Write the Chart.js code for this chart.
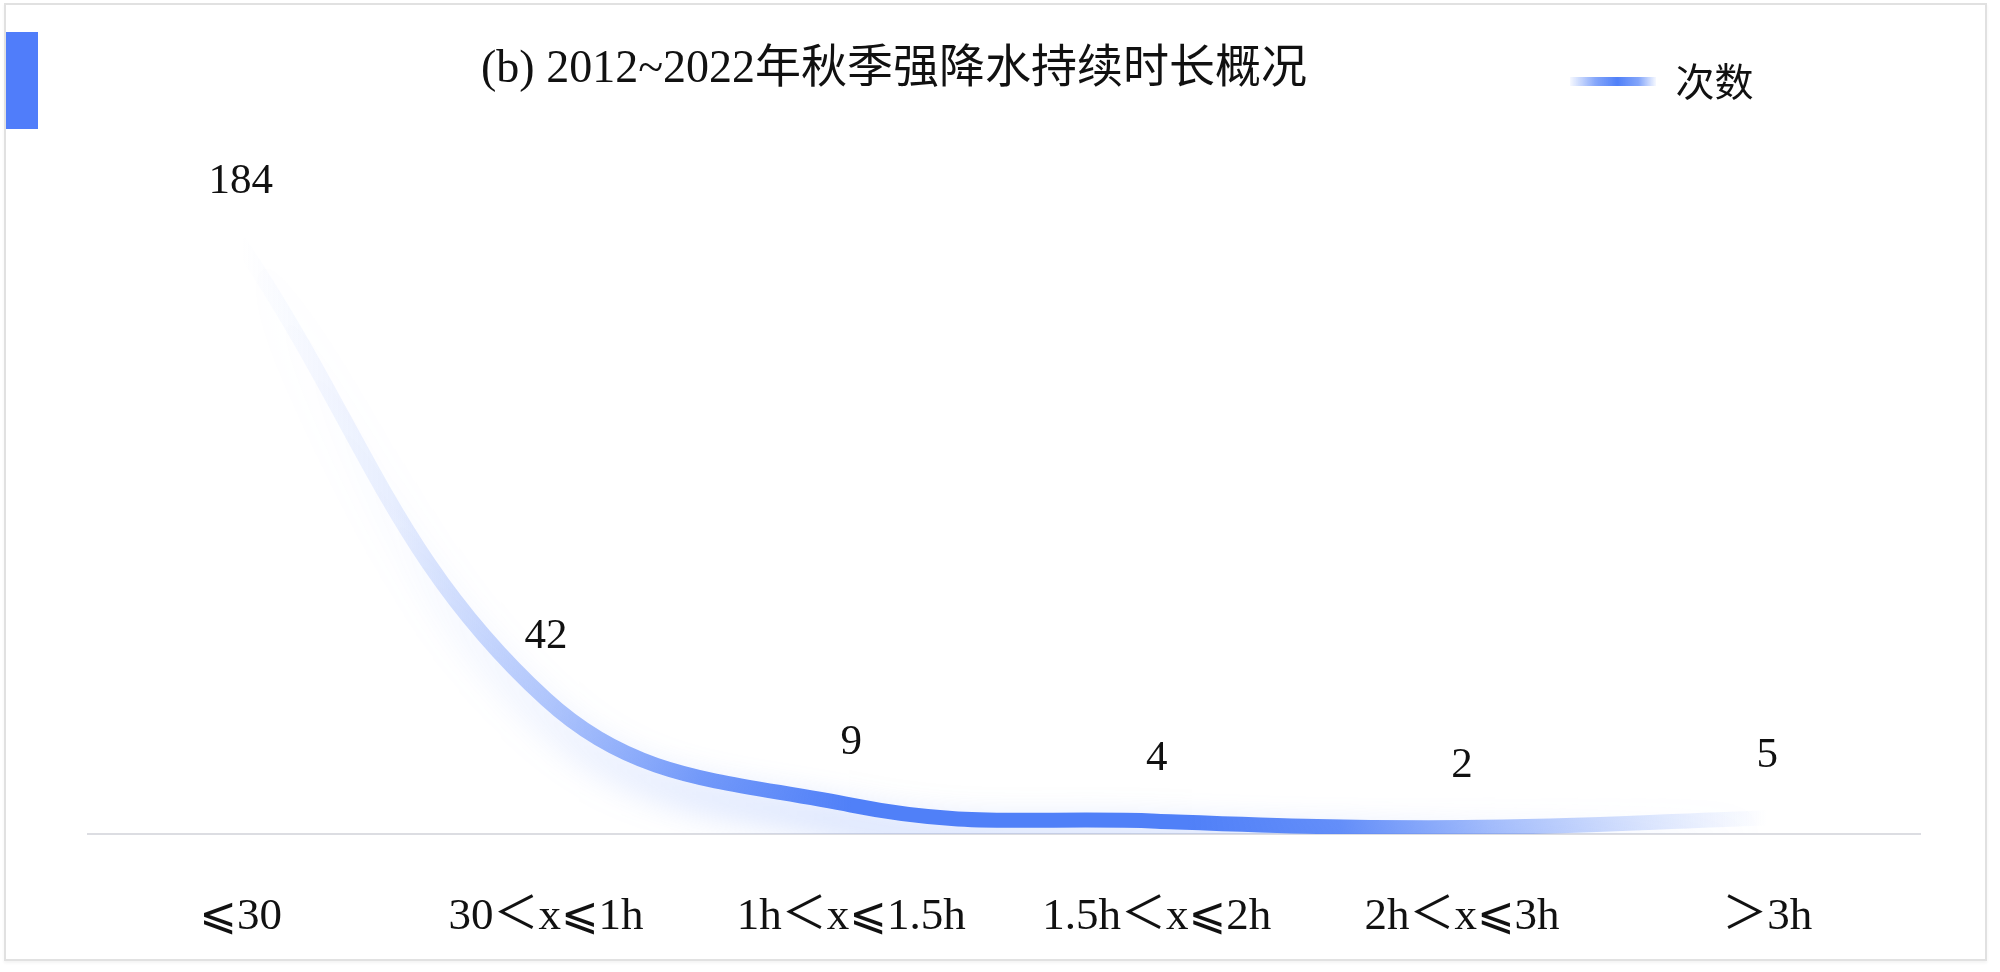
<!DOCTYPE html>
<html>
<head>
<meta charset="utf-8">
<style>
  html, body { margin: 0; padding: 0; background: #fff; }
  #wrap { position: relative; width: 2000px; height: 972px; overflow: hidden; }
  #frame { position: absolute; left: 4px; top: 3px; width: 1979px; height: 954px;
           border: 2px solid #e1e1e1; box-shadow: 0 2px 3px rgba(0,0,0,0.05); }
  #mark { position: absolute; left: 6px; top: 32px; width: 32px; height: 97px; background: #507dfa; }
  canvas { position: absolute; left: 0; top: 0; }
</style>
<script src="https://cdn.jsdelivr.net/npm/chart.js@4.4.0/dist/chart.umd.min.js"></script>
</head>
<body>
<div id="wrap">
  <div id="frame"></div>
  <div id="mark"></div>
  <canvas id="c" width="2000" height="972"></canvas>
</div>
<script>
// data
const categories = ['⩽30', '30＜x⩽1h', '1h＜x⩽1.5h', '1.5h＜x⩽2h', '2h＜x⩽3h', '＞3h'];
const counts = [184, 42, 9, 4, 2, 5];
const seriesName = '次数';
const titleText = '(b) 2012~2022年秋季强降水持续时长概况';
const yMin = 0;
const yMax = 198;

const SERIF = '"Liberation Serif", "DejaVu Sans", "Noto Sans CJK SC", serif';
const TITLE_CENTER_X = 894;
const LEGEND_X = 1570;
const LEGEND_TOP = 52;

// blue that fades in and out along the x axis
function fadeGradient(ctx, x0, x1, stops) {
  const g = ctx.createLinearGradient(x0, 0, x1, 0);
  stops.forEach(([p, a]) => g.addColorStop(p, 'rgba(80,128,248,' + a + ')'));
  return g;
}

function lineColor(c) {
  const chart = c.chart;
  const xs = chart.scales.x;
  if (!xs || !chart.chartArea) return 'rgba(80,128,248,1)';
  const x0 = xs.getPixelForValue(0);
  const x1 = xs.getPixelForValue(categories.length - 1);
  return fadeGradient(chart.ctx, x0, x1, [
    [0, 0], [0.1, 0.12], [0.2, 0.42], [0.3, 0.78], [0.4, 1],
    [0.62, 1], [0.72, 0.88], [0.82, 0.5], [0.92, 0.2], [1, 0]
  ]);
}

// soft glow under the line
const glow = {
  id: 'glow',
  beforeDatasetDraw(chart) {
    const ctx = chart.ctx;
    ctx.save();
    ctx.shadowColor = 'rgba(80,128,248,0.5)';
    ctx.shadowBlur = 36;
    ctx.shadowOffsetY = 18;
  },
  afterDatasetDraw(chart) {
    chart.ctx.restore();
  }
};

// numbers above each point
const valueLabels = {
  id: 'valueLabels',
  afterDatasetsDraw(chart) {
    const ctx = chart.ctx;
    const meta = chart.getDatasetMeta(0);
    ctx.save();
    ctx.font = '43px ' + SERIF;
    ctx.fillStyle = '#111';
    ctx.textAlign = 'center';
    ctx.textBaseline = 'alphabetic';
    meta.data.forEach((pt, i) => ctx.fillText(String(counts[i]), pt.x, pt.y - 51));
    ctx.restore();
  }
};

// title and legend sit on the same line, title a bit left of centre
const placeHeader = {
  id: 'placeHeader',
  afterLayout(chart) {
    const t = chart.titleBlock;
    const dx = TITLE_CENTER_X - (t.left + t.right) / 2;
    t.left += dx; t.right += dx;

    const lg = chart.legend;
    const lx = LEGEND_X - (lg.right - lg.lineWidths[0]);
    lg.left += lx; lg.right += lx;
    const ly = LEGEND_TOP - lg.top;
    lg.top += ly; lg.bottom += ly;
  },
  beforeDraw(chart) {
    const lg = chart.legend;
    const item = lg.legendItems && lg.legendItems[0];
    if (!item) return;
    const x0 = lg.right - lg.lineWidths[0];
    item.fillStyle = fadeGradient(chart.ctx, x0, x0 + lg.options.labels.boxWidth,
      [[0, 0.05], [0.3, 0.7], [0.55, 1], [0.8, 0.7], [1, 0.05]]);
    item.lineWidth = 0;
    item.strokeStyle = 'rgba(0,0,0,0)';
  }
};

new Chart(document.getElementById('c'), {
  type: 'line',
  data: {
    labels: categories,
    datasets: [{
      label: seriesName,
      data: counts,
      borderColor: lineColor,
      backgroundColor: 'rgba(80,128,248,1)',
      borderWidth: 15,
      borderCapStyle: 'round',
      tension: 0.4,
      pointRadius: 0,
      fill: false
    }]
  },
  options: {
    responsive: false,
    animation: false,
    layout: { padding: { left: 88, right: 80, top: 42, bottom: 0 } },
    plugins: {
      title: {
        display: true,
        text: titleText,
        color: '#111',
        font: { family: SERIF, size: 46, weight: 'normal' },
        padding: { top: 0, bottom: 43 }
      },
      legend: {
        display: true,
        position: 'top',
        align: 'end',
        labels: {
          boxWidth: 86,
          boxHeight: 9,
          padding: 10,
          color: '#111',
          font: { family: '"Noto Sans CJK SC", sans-serif', size: 39 }
        }
      },
      tooltip: { enabled: false }
    },
    scales: {
      x: {
        offset: true,
        grid: { display: false, drawTicks: false },
        border: { display: true, color: '#dcdde2', width: 2 },
        ticks: {
          color: '#111',
          padding: 56,
          autoSkip: false,
          maxRotation: 0,
          font: { family: SERIF, size: 45 }
        },
        afterFit(scale) { scale.height = 138; }
      },
      y: {
        display: false,
        min: yMin,
        max: yMax
      }
    }
  },
  plugins: [glow, valueLabels, placeHeader]
});
</script>
</body>
</html>
